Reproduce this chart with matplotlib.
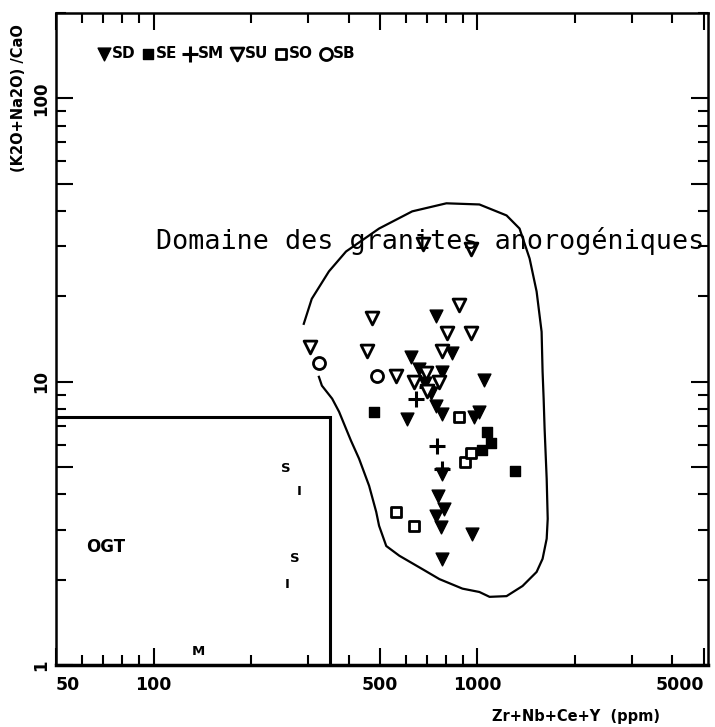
import matplotlib
matplotlib.use('Agg')
import matplotlib.pyplot as plt
from matplotlib.ticker import FixedLocator, FixedFormatter, NullFormatter

# ---- data (Zr+Nb+Ce+Y ppm, (K2O+Na2O)/CaO) ----
sd_x = [746, 625, 837, 779, 1051, 661, 607, 746, 779, 979, 1014, 779, 757, 790, 746, 774, 965, 779, 690, 720]
sd_y = [17.0, 12.25, 12.6, 10.85, 10.1, 11.1, 7.4, 8.2, 7.7, 7.52, 7.83, 4.73, 3.96, 3.56, 3.36, 3.07, 2.90, 2.37, 9.9, 9.1]
se_x = [480, 1067, 1105, 1036, 1302]
se_y = [7.83, 6.66, 6.09, 5.75, 4.85]
sm_x = [647, 700, 752, 779]
sm_y = [8.71, 9.6, 5.94, 4.93]
su_x = [681, 958, 880, 473, 807, 958, 304, 456, 779, 561, 695, 763, 638, 700]
su_y = [30.7, 29.5, 18.7, 16.8, 14.8, 14.8, 13.3, 12.8, 12.8, 10.5, 10.7, 10.0, 10.0, 9.3]
so_x = [880, 918, 958, 561, 638]
so_y = [7.52, 5.22, 5.61, 3.47, 3.10]
sb_x = [324, 490]
sb_y = [11.6, 10.5]

# anorogenic granite field outline
field_x = [291, 308, 348, 393, 497, 629, 802, 1014, 1230, 1349, 1449, 1523, 1578, 1589, 1601, 1612,
           1636, 1648, 1636, 1589, 1523, 1378, 1230, 1090, 1014, 899, 763, 676, 574, 523, 497, 487,
           463, 431, 407, 393, 374, 356, 331, 324]
field_y = [16.0, 19.6, 24.5, 28.8, 34.7, 39.9, 42.6, 42.2, 38.6, 34.7, 27.2, 20.8, 15.0, 10.85, 8.71, 6.82,
           4.54, 3.28, 2.79, 2.37, 2.13, 1.90, 1.75, 1.74, 1.81, 1.86, 2.01, 2.18, 2.43, 2.63, 3.10, 3.47,
           4.29, 5.35, 6.19, 6.82, 7.83, 8.71, 9.68, 10.4]

# OGT box limits
box_x = [50, 350, 350]
box_y = [7.5, 7.5, 1]

# field labels
lab_text = ['OGT', 'S', 'I', 'S', 'I', 'M']
lab_x = [71, 256, 281, 273, 258, 138]
lab_y = [2.61, 4.93, 4.09, 2.37, 1.93, 1.12]

xticks_major = [50, 100, 500, 1000, 5000]
xtick_labels = ['50', '100', '500', '1000', '5000']
xticks_minor = [60, 70, 80, 90, 200, 300, 400, 600, 700, 800, 900, 2000, 3000, 4000]
yticks_major = [1, 5, 10, 50, 100]
ytick_labels = ['1', '', '10', '', '100']
yticks_minor = [2, 3, 4, 6, 7, 8, 9, 20, 30, 40, 60, 70, 80, 90, 200]

FONT = ['DejaVu Sans']

fig = plt.figure(figsize=(7.15, 7.27), dpi=100)
ax = fig.add_axes([56 / 715, 1 - 665 / 727, (708 - 56) / 715, (665 - 13) / 727])
ax.set_xscale('log')
ax.set_yscale('log')
ax.set_xlim(50, 5150)
ax.set_ylim(1, 200)

ax.plot(field_x, field_y, color='black', lw=1.6)
ax.plot(box_x, box_y, color='black', lw=2.2, solid_joinstyle='miter')

ms = 85
ax.scatter(sd_x, sd_y, marker='v', s=ms, c='black', label='SD', zorder=3)
ax.scatter(se_x, se_y, marker='s', s=55, c='black', label='SE', zorder=3)
ax.scatter(sm_x, sm_y, marker='+', s=130, c='black', linewidths=2.2, label='SM', zorder=3)
ax.scatter(su_x, su_y, marker='v', s=ms, facecolors='white', edgecolors='black', linewidths=2, label='SU', zorder=3)
ax.scatter(so_x, so_y, marker='s', s=55, facecolors='white', edgecolors='black', linewidths=2, label='SO', zorder=3)
ax.scatter(sb_x, sb_y, marker='o', s=75, facecolors='white', edgecolors='black', linewidths=2, label='SB', zorder=3)

leg = ax.legend(loc='upper left', bbox_to_anchor=(0.055, 0.958), ncol=6, frameon=False,
                handletextpad=0.1, columnspacing=0.45, handlelength=0.8, borderaxespad=0,
                prop={'family': FONT, 'weight': 'bold', 'size': 11})

ax.text(101.5, 29.5, 'Domaine des granites anorogéniques', family='DejaVu Sans Mono',
        fontsize=19.3, ha='left', va='baseline')

for t, x, y in zip(lab_text, lab_x, lab_y):
    fs = 12 if t == 'OGT' else 9.5
    ax.text(x, y, t, family=FONT, weight='bold', fontsize=fs, ha='center', va='center')

ax.xaxis.set_major_locator(FixedLocator(xticks_major))
ax.xaxis.set_major_formatter(FixedFormatter(xtick_labels))
ax.xaxis.set_minor_locator(FixedLocator(xticks_minor))
ax.xaxis.set_minor_formatter(NullFormatter())
ax.yaxis.set_major_locator(FixedLocator(yticks_major))
ax.yaxis.set_major_formatter(FixedFormatter(ytick_labels))
ax.yaxis.set_minor_locator(FixedLocator(yticks_minor))
ax.yaxis.set_minor_formatter(NullFormatter())

ax.tick_params(which='both', direction='in', top=True, right=True, width=1.5)
ax.tick_params(which='major', length=12)
ax.tick_params(which='minor', length=7)
ax.tick_params(axis='x', which='major', pad=8)
ax.tick_params(axis='y', which='major', pad=4)
fig.canvas.draw()
xl = ax.get_xticklabels()
for lbl in xl:
    lbl.set_family(FONT)
    lbl.set_weight('bold')
    lbl.set_fontsize(12.5)
xl[-1].set_horizontalalignment('right')
xl[0].set_horizontalalignment('left')
for lbl in ax.get_yticklabels():
    lbl.set_family(FONT)
    lbl.set_weight('bold')
    lbl.set_fontsize(12)
    lbl.set_rotation(90)
    lbl.set_va('center')

for sp in ax.spines.values():
    sp.set_linewidth(1.8)
ax.spines['bottom'].set_linewidth(2.5)

fig.text(19 / 715, 1 - 98 / 727, '(K2O+Na2O) /CaO', rotation=90, ha='center', va='center',
         family=FONT, weight='bold', fontsize=10.5)
fig.text(660 / 715, 1 - 716 / 727, 'Zr+Nb+Ce+Y  (ppm)', ha='right', va='center',
         family=FONT, weight='bold', fontsize=10.5)

fig.savefig('out.png', dpi=100)
